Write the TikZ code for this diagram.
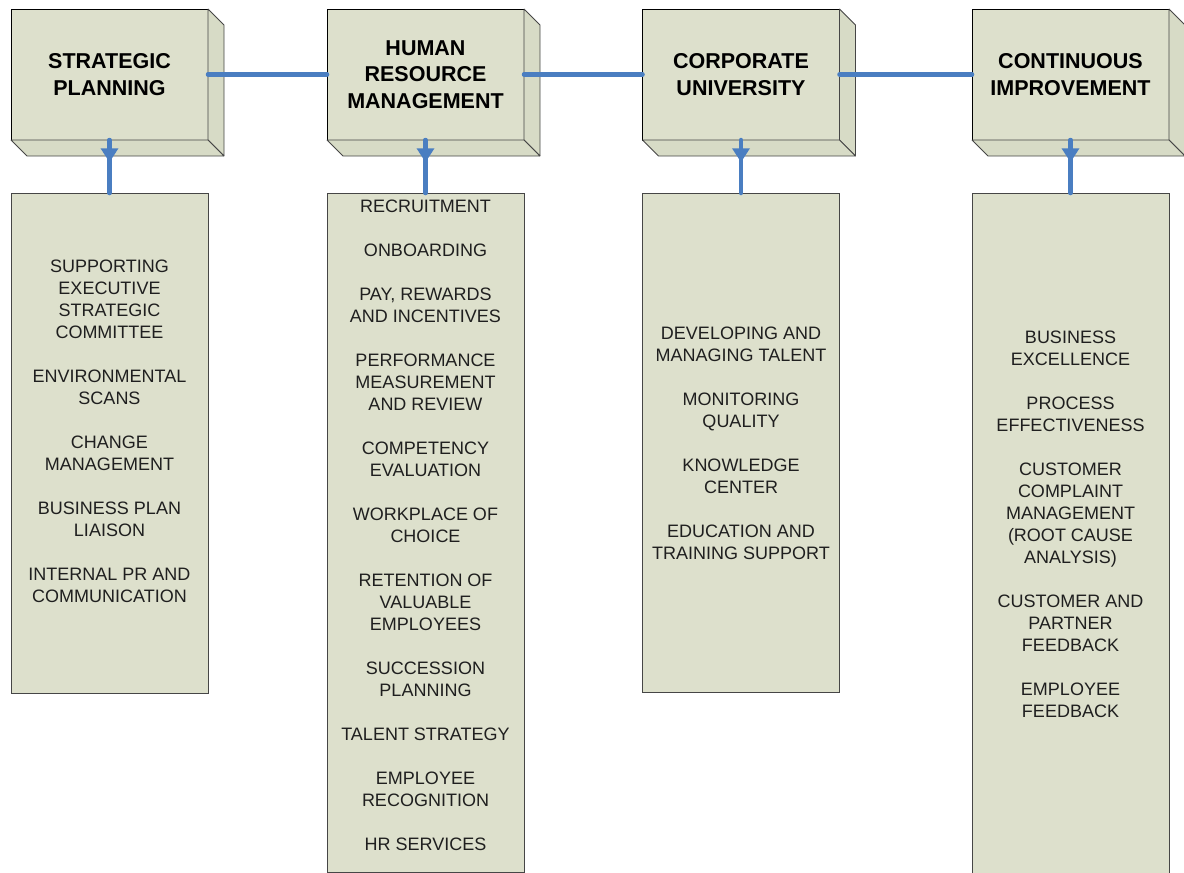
\documentclass[tikz,border=0pt]{standalone}
\usepackage{fontspec}
\setmainfont{Liberation Sans}
\usetikzlibrary{arrows.meta,decorations.markings}
\definecolor{boxfill}{RGB}{221,224,204}
\definecolor{sidefill}{RGB}{215,219,198}
\definecolor{edgegray}{RGB}{70,70,70}
\definecolor{linkblue}{RGB}{74,126,193}

\begin{document}
\begin{tikzpicture}[x=1pt,y=-1pt,
		every node/.style={inner sep=0pt,outer sep=0pt},
		headbox/.style={draw=black,fill=boxfill,line width=0.8pt,minimum width=197pt,minimum height=131pt,align=center,font=\fontsize{21.5}{26.5}\selectfont\bfseries},
		sideface/.style={draw=edgegray,fill=sidefill,line width=0.8pt,line join=bevel},
		listbox/.style={draw=edgegray,fill=boxfill,line width=0.8pt,minimum width=197pt},
		listtext/.style={align=center,text=black!88,font=\fontsize{18}{22}\selectfont},
		link/.style={draw=linkblue,line width=4.5pt,line cap=round},
		feed/.style={link,postaction={decorate},decoration={markings,mark=at position 0.42 with {\arrow[linkblue]{Triangle[width=17pt,length=14pt]}}}}]
		\useasboundingbox (0,0) rectangle (1184,873);
		\clip (0,0) rectangle (1184,873);
		% lower boxes
		\node [listbox,minimum height=500pt] (splist) at (109.5,443) {};
		\node [listbox,minimum height=679pt] (hrmlist) at (425.5,532.5) {};
		\node [listbox,minimum height=499pt] (culist) at (741,442.5) {};
		\node [listbox,minimum height=700pt] (cilist) at (1070.5,543) {};
		% head boxes
		\node [headbox] (sp) at (109.5,74.5) {STRATEGIC\\PLANNING};
		\node [headbox] (hrm) at (425.5,74.5) {HUMAN\\RESOURCE\\MANAGEMENT};
		\node [headbox] (cu) at (741,74.5) {CORPORATE\\UNIVERSITY};
		\node [headbox] (ci) at (1070.5,74.5) {CONTINUOUS\\IMPROVEMENT};
		\foreach \b in {sp,hrm,cu,ci} {
			\draw [sideface] (\b.north east) -- ++(16,16) -- ([shift={(16,16)}]\b.south east) -- (\b.south east) -- cycle;
			\draw [sideface] (\b.south west) -- ++(16,16) -- ([shift={(16,16)}]\b.south east) -- (\b.south east) -- cycle;
		}
		% list texts
		\node [listtext] (sptext) at (109.5,431) {SUPPORTING\\EXECUTIVE\\STRATEGIC\\COMMITTEE\\[22pt]
			ENVIRONMENTAL\\SCANS\\[22pt]
			CHANGE\\MANAGEMENT\\[22pt]
			BUSINESS PLAN\\LIAISON\\[22pt]
			INTERNAL PR AND\\COMMUNICATION};
		\node [listtext] (hrmtext) at (425.5,525) {RECRUITMENT\\[22pt]
			ONBOARDING\\[22pt]
			PAY, REWARDS\\AND INCENTIVES\\[22pt]
			PERFORMANCE\\MEASUREMENT\\AND REVIEW\\[22pt]
			COMPETENCY\\EVALUATION\\[22pt]
			WORKPLACE OF\\CHOICE\\[22pt]
			RETENTION OF\\VALUABLE\\EMPLOYEES\\[22pt]
			SUCCESSION\\PLANNING\\[22pt]
			TALENT STRATEGY\\[22pt]
			EMPLOYEE\\RECOGNITION\\[22pt]
			HR SERVICES};
		\node [listtext] (cutext) at (741,443.5) {DEVELOPING AND\\MANAGING TALENT\\[22pt]
			MONITORING\\QUALITY\\[22pt]
			KNOWLEDGE\\CENTER\\[22pt]
			EDUCATION AND\\TRAINING SUPPORT};
		\node [listtext] (citext) at (1070.5,524) {BUSINESS\\EXCELLENCE\\[22pt]
			PROCESS\\EFFECTIVENESS\\[22pt]
			CUSTOMER\\COMPLAINT\\MANAGEMENT\\(ROOT CAUSE\\ANALYSIS)\\[22pt]
			CUSTOMER AND\\PARTNER\\FEEDBACK\\[22pt]
			EMPLOYEE\\FEEDBACK};
		% connectors
		\draw [link] (sp.east) -- (hrm.west);
		\draw [link] (hrm.east) -- (cu.west);
		\draw [link] (cu.east) -- (ci.west);
		\draw [feed] (sp.south) -- (splist.north);
		\draw [feed] (hrm.south) -- (hrmlist.north);
		\draw [feed] (cu.south) -- (culist.north);
		\draw [feed] (ci.south) -- (cilist.north);
	\end{tikzpicture}
\end{document}
